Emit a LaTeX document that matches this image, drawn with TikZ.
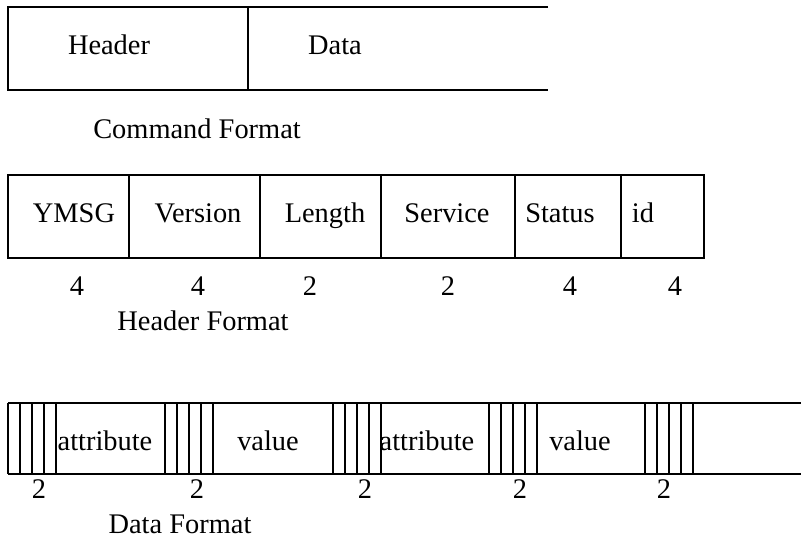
\documentclass[tikz,border=0pt]{standalone}
\usepackage{fontspec}
\setmainfont{Liberation Serif}
\usepackage{tikz}
\usetikzlibrary{positioning,calc}

\tikzset{
  fieldtext/.style={inner sep=0pt, anchor=base, font=\fontsize{14.2}{17}\selectfont},
  boxline/.style={line width=0.55pt, black}
}

\begin{document}
\begin{tikzpicture}[x=0.5pt,y=-0.5pt]
      \useasboundingbox (0,0) rectangle (801,539);
      % command format
      \draw[boxline] (548,7) -- (8,7) -- (8,90) -- (548,90);
      \draw[boxline] (248,7) -- (248,90);
      \node[fieldtext] (hdr) at (109,55) {Header};
      \node[fieldtext] (dat) at (335,55) {Data};
      \node[fieldtext] (cmdcap) at (197,139) {Command Format};
      % header format
      \draw[boxline] (8,175) rectangle (704,258);
      \foreach \x in {129,260,381,515,621}
        \draw[boxline] (\x,175) -- (\x,258);
      \foreach \t/\x [count=\i] in {YMSG/74,Version/198,Length/325,Service/447,Status/560,id/643}
        \node[fieldtext] (hf\i) at (\x,223) {\t};
      \foreach \n/\x [count=\i] in {4/77,4/198,2/310,2/448,4/570,4/675}
        \node[fieldtext] (hn\i) at (\x,295) {\n};
      \node[fieldtext] (hdrcap) at (203,330) {Header Format};
      % data format
      \draw[boxline] (8,403) -- (801,403);
      \draw[boxline] (8,474) -- (801,474);
      \foreach \s in {8,165,333,489,645}
        \foreach \k in {0,1,...,4}
          \draw[boxline] ({\s+\k*12},403) -- ({\s+\k*12},474);
      \foreach \t/\x [count=\i] in {attribute/105,value/268,attribute/427,value/580}
        \node[fieldtext] (df\i) at (\x,450) {\t};
      \foreach \x [count=\i] in {39,197,365,520,664}
        \node[fieldtext] (dn\i) at (\x,498) {2};
      \node[fieldtext] (datcap) at (180,533) {Data Format};
    \end{tikzpicture}
\end{document}
